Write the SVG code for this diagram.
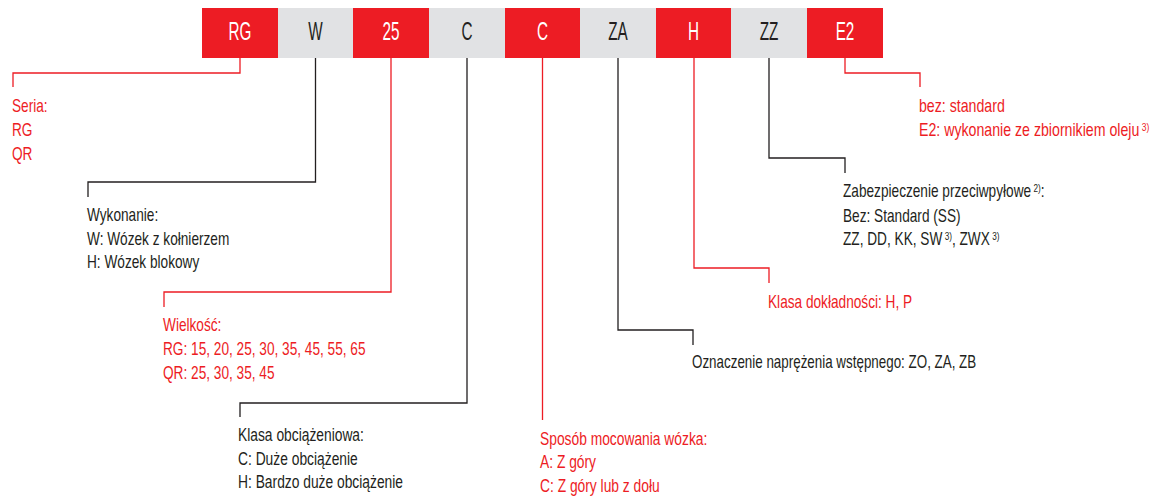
<svg xmlns="http://www.w3.org/2000/svg" width="1159" height="497" viewBox="0 0 1159 497">
<style>
.red{fill:#ED1C24}
.gray{fill:#E1E2E4}
.bt{font-family:"Liberation Sans",Arial,sans-serif;font-size:25.5px;text-anchor:middle}
.wt{fill:#FFFFFF}
.dt{fill:#231F20}
.lbl{font-family:"Liberation Sans",Arial,sans-serif;font-size:17.5px}
.lr{fill:#ED1C24}
.ld{fill:#231F20}
.sup{font-size:10.5px}
.cr{fill:none;stroke:#ED1C24;stroke-width:1.3}
.cd{fill:none;stroke:#231F20;stroke-width:1.3}
</style>
<g id="connectors">
<polyline class="cr" points="240,58 240,73 13,73 13,87"/>
<polyline class="cd" points="315.5,58 315.5,182 88,182 88,197"/>
<polyline class="cr" points="391,58 391,292 164,292 164,307"/>
<polyline class="cd" points="467,58 467,403 240,403 240,417"/>
<polyline class="cr" points="542.5,58 542.5,420"/>
<polyline class="cd" points="618,58 618,330 693,330 693,345"/>
<polyline class="cr" points="694,58 694,268 769,268 769,283"/>
<polyline class="cd" points="769,58 769,158 845,158 845,173"/>
<polyline class="cr" points="845,58 845,73 920,73 920,87"/>
</g>
<g id="box-RG"><rect class="red" x="202" y="8" width="76" height="50"/><text class="bt wt" transform="translate(240,40) scale(0.6,1)">RG</text></g>
<g id="box-W"><rect class="gray" x="278" y="8" width="75" height="50"/><text class="bt dt" transform="translate(315.5,40) scale(0.6,1)">W</text></g>
<g id="box-25"><rect class="red" x="353" y="8" width="76" height="50"/><text class="bt wt" transform="translate(391,40) scale(0.6,1)">25</text></g>
<g id="box-C1"><rect class="gray" x="429" y="8" width="76" height="50"/><text class="bt dt" transform="translate(467,40) scale(0.6,1)">C</text></g>
<g id="box-C2"><rect class="red" x="505" y="8" width="75" height="50"/><text class="bt wt" transform="translate(542.5,40) scale(0.6,1)">C</text></g>
<g id="box-ZA"><rect class="gray" x="580" y="8" width="76" height="50"/><text class="bt dt" transform="translate(618,40) scale(0.6,1)">ZA</text></g>
<g id="box-H"><rect class="red" x="656" y="8" width="75" height="50"/><text class="bt wt" transform="translate(693.5,40) scale(0.6,1)">H</text></g>
<g id="box-ZZ"><rect class="gray" x="731" y="8" width="76" height="50"/><text class="bt dt" transform="translate(769,40) scale(0.6,1)">ZZ</text></g>
<g id="box-E2"><rect class="red" x="807" y="8" width="76" height="50"/><text class="bt wt" transform="translate(845,40) scale(0.6,1)">E2</text></g>
<g id="lbl-seria" transform="translate(12,0) scale(0.78,1)"><text class="lbl lr"><tspan x="0" y="112">Seria:</tspan><tspan x="0" y="136">RG</tspan><tspan x="0" y="160">QR</tspan></text></g>
<g id="lbl-wykonanie" transform="translate(87,0) scale(0.78,1)"><text class="lbl ld"><tspan x="0" y="221">Wykonanie:</tspan><tspan x="0" y="245">W: Wózek z kołnierzem</tspan><tspan x="0" y="268">H: Wózek blokowy</tspan></text></g>
<g id="lbl-wielkosc" transform="translate(163,0) scale(0.78,1)"><text class="lbl lr"><tspan x="0" y="331">Wielkość:</tspan><tspan x="0" y="355">RG: 15, 20, 25, 30, 35, 45, 55, 65</tspan><tspan x="0" y="379">QR: 25, 30, 35, 45</tspan></text></g>
<g id="lbl-klasa-obc" transform="translate(238,0) scale(0.79,1)"><text class="lbl ld"><tspan x="0" y="441">Klasa obciążeniowa:</tspan><tspan x="0" y="465">C: Duże obciążenie</tspan><tspan x="0" y="488">H: Bardzo duże obciążenie</tspan></text></g>
<g id="lbl-sposob" transform="translate(540,0) scale(0.79,1)"><text class="lbl lr"><tspan x="0" y="445">Sposób mocowania wózka:</tspan><tspan x="0" y="468">A: Z góry</tspan><tspan x="0" y="492">C: Z góry lub z dołu</tspan></text></g>
<g id="lbl-oznaczenie" transform="translate(692,0) scale(0.765,1)"><text class="lbl ld" x="0" y="368">Oznaczenie naprężenia wstępnego: ZO, ZA, ZB</text></g>
<g id="lbl-klasa-dokl" transform="translate(768,0) scale(0.78,1)"><text class="lbl lr" x="0" y="308">Klasa dokładności: H, P</text></g>
<g id="lbl-zabezp" transform="translate(843,0) scale(0.78,1)"><text class="lbl ld"><tspan x="0" y="197">Zabezpieczenie przeciwpyłowe</tspan><tspan class="sup" dx="3" dy="-5">2)</tspan><tspan dy="5">:</tspan><tspan x="0" y="222">Bez: Standard (SS)</tspan><tspan x="0" y="245">ZZ, DD, KK, SW</tspan><tspan class="sup" dx="3" dy="-5">3)</tspan><tspan dy="5">, ZWX</tspan><tspan class="sup" dx="3" dy="-5">3)</tspan></text></g>
<g id="lbl-e2" transform="translate(919,0) scale(0.81,1)"><text class="lbl lr"><tspan x="0" y="112">bez: standard</tspan><tspan x="0" y="136">E2: wykonanie ze zbiornikiem oleju</tspan><tspan class="sup" dx="3" dy="-5">3)</tspan></text></g>
</svg>
